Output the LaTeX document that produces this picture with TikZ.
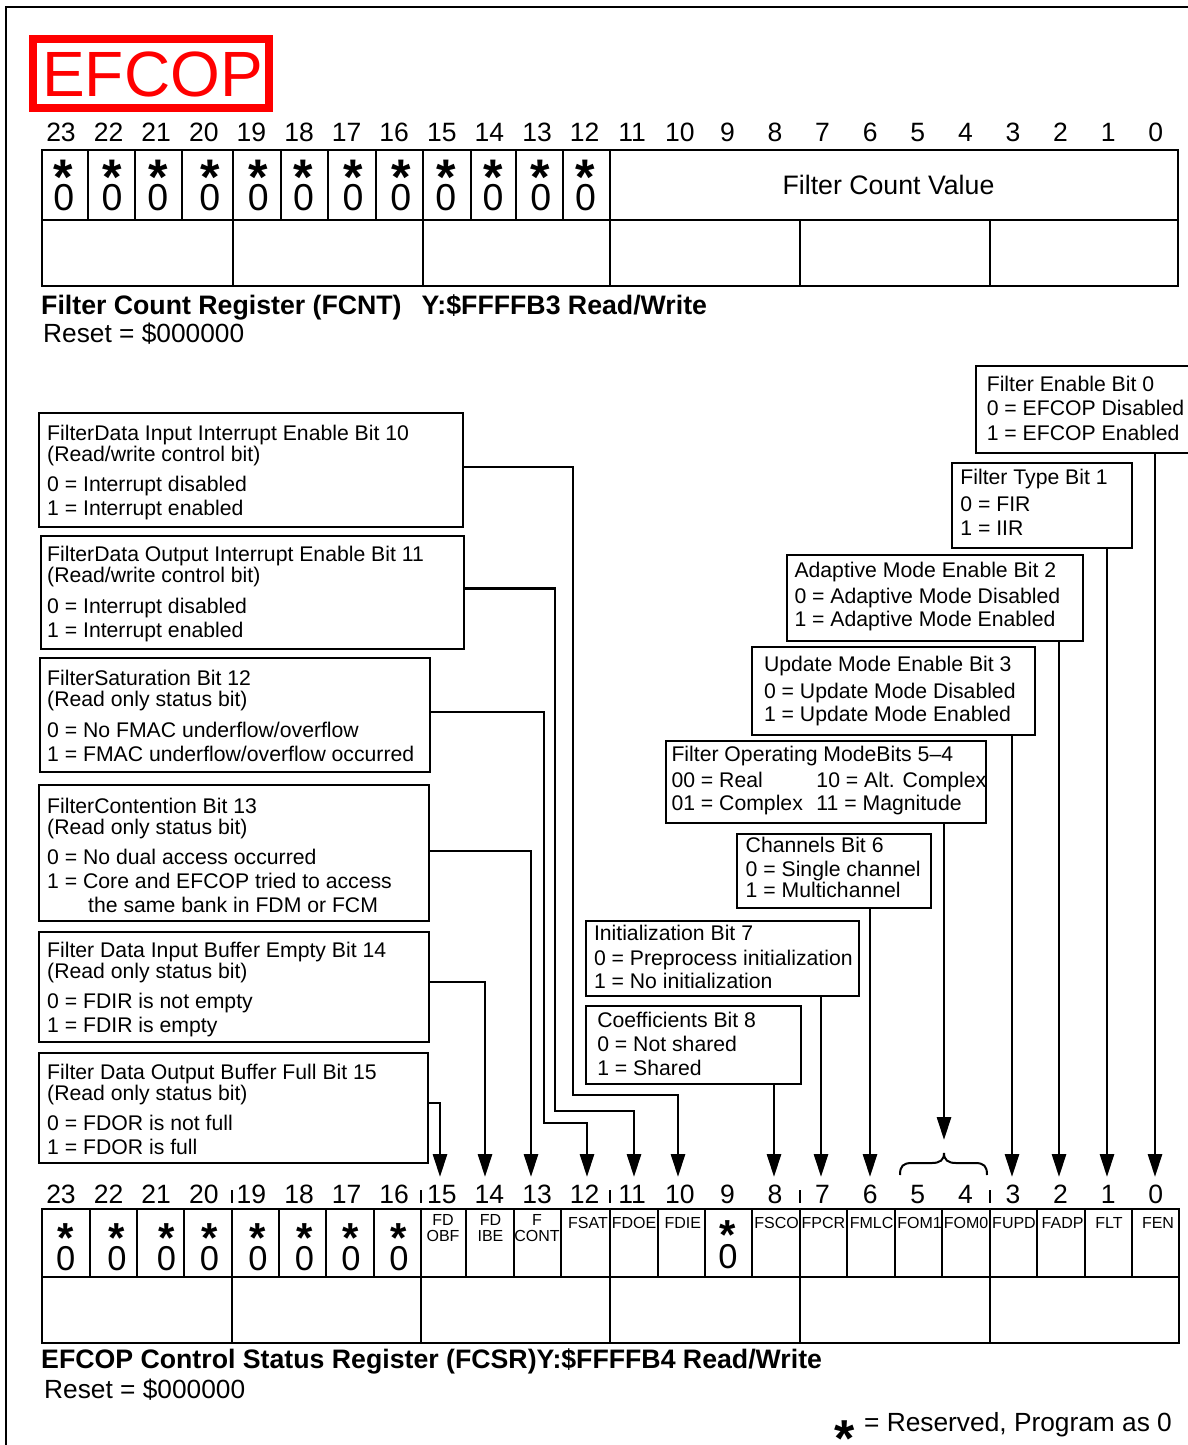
\documentclass[tikz,border=0pt]{standalone}
\usepackage{fontspec}
\setmainfont{Liberation Sans}
\usetikzlibrary{arrows.meta}
\newcommand\myfs[2]{\fontsize{#1}{#2}\selectfont}
\newcommand\dbox[5]{\node[dboxst, minimum width={(#4-#2)*1pt}, minimum height={(#5-#3)*1pt}] (#1) at (#2,#3) {};}
\begin{document}
\begin{tikzpicture}[x=1pt,y=-1pt,
  reg/.style={line width=2.2pt},
  dboxst/.style={draw, line width=2pt, inner sep=0pt, outer sep=0pt, anchor=north west},
  dtxt/.style={anchor=north west, inner sep=0pt, align=left},
  conn/.style={line width=2.8pt, -{Triangle[length=23pt,width=14pt]}},
  bitnum/.style={anchor=base, inner sep=0pt, font=\myfs{26.5}{30}},
  zero/.style={anchor=base, inner sep=0pt},
  star/.style={anchor=base, inner sep=0pt},
  lbl/.style={inner sep=0pt, font=\myfs{16}{15.5}, align=center},
  capst/.style={anchor=base west, inner sep=0pt, font=\bfseries\myfs{26.7}{30}},
  plain/.style={anchor=base west, inner sep=0pt, font=\myfs{26.3}{30}},
]
\useasboundingbox (0,0) rectangle (1188,1445);
% outer frame
\draw[line width=2pt] (1190,7) -- (6,7) -- (6,1447);
% title
\draw[red, line width=8pt] (33,39) rectangle (269,108);
\node[anchor=base, inner sep=0pt, text=red, font=\myfs{64}{64}] (efcop) at (152.5,96) {EFCOP};
% bit numbers
\foreach \b in {0,...,23} {
  \pgfmathsetmacro\cx{61+47.6*(23-\b)}
  \node[bitnum] (tn\b) at (\cx,141.8) {\b};
  \node[bitnum] (bn\b) at (\cx,1203.5) {\b};
}
% ---------- FCNT register
\draw[reg] (42,150) rectangle (1178,286);
\draw[reg] (42,220) -- (1178,220);
\foreach \x in {88,135,182,233,281,328,376,423,471,516,563,610} \draw[reg] (\x,150) -- (\x,220);
\foreach \x in {233,423,610,800,990} \draw[reg] (\x,220) -- (\x,286);
\foreach \cx [count=\k] in {63.7,112,157.8,209.8,258.3,303.5,353,400.8,445.8,493,540.7,585.6} {
  \node[star, text depth=-19pt, font=\bfseries\myfs{50}{50}] (ts\k) at (\cx,194.5) {*};
  \node[zero, font=\myfs{37.5}{40}] (tz\k) at (\cx,210.3) {0};
}
\node[anchor=base, inner sep=0pt, font=\myfs{26.7}{30}] (fcv) at (888.5,194) {Filter Count Value};
\node[capst] (cap1) at (41,314) {Filter Count Register (FCNT)\hspace{20pt}Y:\$FFFFB3 Read/Write};
\node[plain] (rs1) at (43,342) {Reset = \$000000};
% ---------- FCSR register
\foreach \x in {232,421,610,800,990} \draw[line width=1.5pt] (\x,1190) -- (\x,1203);
\draw[reg] (42,1209) rectangle (1179,1343);
\draw[reg] (42,1277) -- (1179,1277);
\foreach \x in {90,137,184,232,279,326,374,421,466,514,561,610,658,705,752,800,847,895,942,990,1037,1085,1132} \draw[reg] (\x,1209) -- (\x,1277);
\foreach \x in {232,421,610,800,990} \draw[reg] (\x,1277) -- (\x,1343);
\foreach \cx [count=\k] in {65.6,117,166.5,209.5,258,304.5,351,399} {
  \node[star, text depth=-16pt, font=\bfseries\myfs{42}{42}] (bs\k) at (\cx,1252.5) {*};
  \node[zero, font=\myfs{34.5}{36}] (bz\k) at (\cx,1270.3) {0};
}
\node[star, text depth=-16pt, font=\bfseries\myfs{42}{42}] (bs9) at (728,1249.5) {*};
\node[zero, font=\myfs{34.5}{36}] (bz9) at (728,1268.5) {0};
\node[lbl, anchor=north] (lOBF) at (443,1214.5) {FD\\OBF};
\node[lbl, anchor=north] (lIBE) at (490.5,1214.5) {FD\\IBE};
\node[lbl, anchor=north] (lCONT) at (537,1214.5) {F\\CONT};
\foreach \t/\x in {FSAT/588,FDOE/634,FDIE/682.8,FSCO/776.6,FPCR/823.4,FMLC/871.6,FOM1/919.6,FOM0/966,FUPD/1014,FADP/1062.6,FLT/1109,FEN/1158}
  \node[lbl, anchor=base] (l\t) at (\x,1228.3) {\t};
\node[capst] (cap2) at (41,1368) {EFCOP Control Status Register (FCSR)Y:\$FFFFB4 Read/Write};
\node[plain] (rs2) at (44,1398.5) {Reset = \$000000};
\node[star, text depth=-20pt, font=\bfseries\myfs{52}{52}] (lgs) at (845,1456) {*};
\node[plain] (lg) at (864,1431.5) {= Reserved, Program as 0};
% ---------- description boxes
\dbox{b10}{38.5}{413}{463}{527}
\dbox{b11}{41}{535.5}{464}{648.5}
\dbox{b12}{40}{658}{430}{772}
\dbox{b13}{39}{785}{429}{921}
\dbox{b14}{39}{932}{429}{1042}
\dbox{b15}{39}{1053}{428}{1163}
\dbox{b0}{976}{366}{1198}{453}
\dbox{b1}{952}{463}{1132}{548}
\dbox{b2}{786.5}{554.5}{1083}{641}
\dbox{b3}{751.5}{647}{1035}{735}
\dbox{b54}{666}{740.5}{986}{823}
\dbox{b6}{737}{834}{931}{908}
\dbox{b7}{586}{921}{859}{996}
\dbox{b8}{586}{1006}{801}{1084}
\begin{scope}[every node/.append style={font=\myfs{21.2}{24}}]
\node[dtxt] (t10) at (47,424.5) {FilterData Input Interrupt Enable Bit 10\\[-3pt](Read/write control bit)\\[6.3pt]0 = Interrupt disabled\\1 = Interrupt enabled};
\node[dtxt] (t11) at (47,546.2) {FilterData Output Interrupt Enable Bit 11\\[-3pt](Read/write control bit)\\[6.3pt]0 = Interrupt disabled\\1 = Interrupt enabled};
\node[dtxt] (t12) at (47,670.2) {FilterSaturation Bit 12\\[-3pt](Read only status bit)\\[6.3pt]0 = No FMAC underflow/overflow\\1 = FMAC underflow/overflow occurred};
\node[dtxt] (t13) at (47,797.8) {FilterContention Bit 13\\[-3pt](Read only status bit)\\[6.3pt]0 = No dual access occurred\\1 = Core and EFCOP tried to access\\\hspace*{41pt}the same bank in FDM or FCM};
\node[dtxt] (t14) at (47,941.8) {Filter Data Input Buffer Empty Bit 14\\[-3pt](Read only status bit)\\[6.3pt]0 = FDIR is not empty\\1 = FDIR is empty};
\node[dtxt] (t15) at (47,1063.5) {Filter Data Output Buffer Full Bit 15\\[-3pt](Read only status bit)\\[6.3pt]0 = FDOR is not full\\1 = FDOR is full};
\end{scope}
\begin{scope}[every node/.append style={font=\myfs{21.2}{23.4}}]
\node[dtxt] (t0) at (986.6,375.5) {Filter Enable Bit 0\\[1.1pt]0 = EFCOP Disabled\\[1.1pt]1 = EFCOP Enabled};
\node[dtxt] (t1) at (960.2,468.8) {Filter Type Bit 1\\[4pt]0 = FIR\\1 = IIR};
\node[dtxt] (t2) at (794.3,561.8) {Adaptive Mode Enable Bit 2\\[2.6pt]0 = Adaptive Mode Disabled\\1 = Adaptive Mode Enabled};
\node[dtxt] (t3) at (763.8,656.2) {Update Mode Enable Bit 3\\[3.2pt]0 = Update Mode Disabled\\1 = Update Mode Enabled};
\node[dtxt] (t54) at (671.3,746.2) {Filter Operating ModeBits 5–4\\[2.2pt]\makebox[145pt][l]{00 = Real}10 = Alt. Complex\\\makebox[145pt][l]{01 = Complex}11 = Magnitude};
\node[dtxt] (t6) at (745.5,837.2) {Channels Bit 6\\[-0.1pt]0 = Single channel\\[-2.1pt]1 = Multichannel};
\node[dtxt] (t7) at (593.8,925.2) {Initialization Bit 7\\[0.9pt]0 = Preprocess initialization\\1 = No initialization};
\node[dtxt] (t8) at (597.1,1011.8) {Coefficients Bit 8\\[1pt]0 = Not shared\\1 = Shared};
\end{scope}
% ---------- arrow targets
\coordinate (a15) at (440,1177);
\coordinate (a14) at (485,1177);
\coordinate (a13) at (531,1177);
\coordinate (a12) at (587,1177);
\coordinate (a11) at (634,1177);
\coordinate (a10) at (678,1177);
\coordinate (a8) at (774,1177);
\coordinate (a7) at (821,1177);
\coordinate (a6) at (870,1177);
\coordinate (a54) at (944,1140);
\coordinate (a3) at (1012,1177);
\coordinate (a2) at (1059,1177);
\coordinate (a1) at (1107,1177);
\coordinate (a0) at (1155,1177);
% ---------- connectors
\draw[conn] (b10.north east) ++(0,54) -| (573,1095) -| (a10);
\draw[conn] (b11.north east) ++(0,53) -| (555,1111) -| (a11);
\draw[conn] (b12.north east) ++(0,54) -| (544,1123) -| (a12);
\draw[conn] (b13.north east) ++(0,66) -| (a13);
\draw[conn] (b14.north east) ++(0,50) -| (a14);
\draw[conn] (b15.north east) ++(0,50) -| (a15);
\draw[conn] (b0.south -| a0) -- (a0);
\draw[conn] (b1.south -| a1) -- (a1);
\draw[conn] (b2.south -| a2) -- (a2);
\draw[conn] (b3.south -| a3) -- (a3);
\draw[conn] (b54.south -| a54) -- (a54);
\draw[conn] (b6.south -| a6) -- (a6);
\draw[conn] (b7.south -| a7) -- (a7);
\draw[conn] (b8.south -| a8) -- (a8);
% brace for bits 5-4
\draw[line width=2pt] (900,1175) .. controls (900,1166) and (903,1163) .. (912,1163) -- (932,1163) .. controls (940,1163) and (944,1160) .. (944,1153) .. controls (944,1160) and (948,1163) .. (956,1163) -- (975,1163) .. controls (984,1163) and (987,1166) .. (987,1175);
\end{tikzpicture}
\end{document}
